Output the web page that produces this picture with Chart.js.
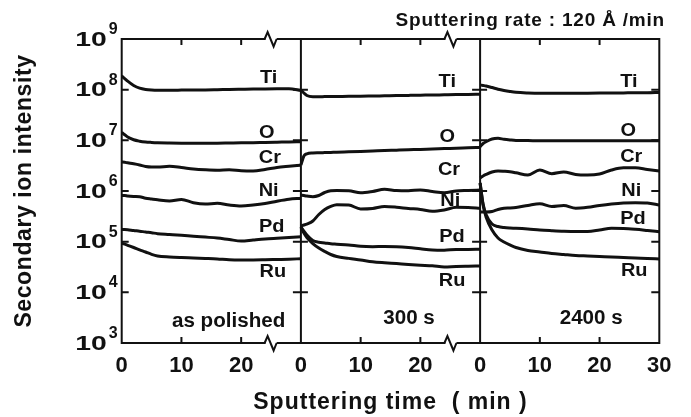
<!DOCTYPE html>
<html>
<head>
<meta charset="utf-8">
<script src="https://cdn.jsdelivr.net/npm/chart.js@4.4.0/dist/chart.umd.min.js"></script>
<style>
  html, body { margin: 0; padding: 0; background: #fff; }
  #wrap { width: 691px; height: 417px; position: relative; }
</style>
</head>
<body>
<div id="wrap"><canvas id="sims"></canvas></div>
<script>
// sputtering time inside each panel (min)
var times = [0, 0.5, 1, 2, 3, 4, 5, 6, 8, 10, 12, 14, 16, 18, 20, 22, 24, 26, 28, 30];
var elements = ['Ti', 'O', 'Cr', 'Ni', 'Pd', 'Ru'];
var panelNames = ['as polished', '300 s', '2400 s'];
var xTickLabels = ['0', '10', '20', '0', '10', '20', '0', '10', '20', '30'];

// as polished
var ti1 = [1.86e8, 1.66e8, 1.47e8, 1.21e8, 1.07e8, 1.01e8, 9.85e7, 9.76e7, 9.76e7, 9.8e7, 9.85e7, 9.89e7, 9.99e7, 1.01e8, 1.02e8, 1.03e8, 1.035e8, 1.04e8, 1.045e8, 9.63e7];
var o1  = [1.44e7, 1.29e7, 1.16e7, 1.025e7, 9.62e6, 9.27e6, 9.1e6, 8.98e6, 8.86e6, 8.78e6, 8.74e6, 8.74e6, 8.78e6, 8.86e6, 8.94e6, 8.98e6, 9.1e6, 9.19e6, 9.27e6, 9.4e6];
var cr1 = [3.74e6, 3.69e6, 3.6e6, 3.44e6, 3.26e6, 3.05e6, 2.98e6, 2.98e6, 3.07e6, 2.91e6, 2.72e6, 2.62e6, 2.57e6, 2.62e6, 2.51e6, 2.48e6, 2.66e6, 2.91e6, 3.07e6, 3.22e6];
var ni1 = [8.15e5, 8.15e5, 7.97e5, 7.79e5, 7.69e5, 7.21e5, 6.95e5, 6.71e5, 6.35e5, 6.8e5, 5.88e5, 5.54e5, 5.72e5, 5.29e5, 5.06e5, 5.29e5, 5.67e5, 6.29e5, 6.86e5, 7.18e5];
var pd1 = [1.75e5, 1.74e5, 1.72e5, 1.66e5, 1.61e5, 1.55e5, 1.5e5, 1.44e5, 1.39e5, 1.34e5, 1.28e5, 1.23e5, 1.18e5, 1.1e5, 1.03e5, 1.08e5, 1.13e5, 1.17e5, 1.21e5, 1.25e5];
var ru1 = [9.29e4, 8.92e4, 8.48e4, 7.67e4, 6.91e4, 6.26e4, 5.63e4, 5.22e4, 4.98e4, 4.85e4, 4.76e4, 4.66e4, 4.55e4, 4.39e4, 4.35e4, 4.35e4, 4.39e4, 4.45e4, 4.51e4, 4.61e4];

// after 300 s
var ti2 = [9.85e7, 8.6e7, 7.67e7, 7.26e7, 7.26e7, 7.3e7, 7.31e7, 7.33e7, 7.4e7, 7.43e7, 7.5e7, 7.57e7, 7.64e7, 7.71e7, 7.78e7, 7.85e7, 7.92e7, 7.99e7, 8.07e7, 8.1e7];
var o2  = [3.26e6, 4.91e6, 5.42e6, 5.62e6, 5.68e6, 5.73e6, 5.78e6, 5.83e6, 5.94e6, 6.05e6, 6.16e6, 6.27e6, 6.39e6, 6.51e6, 6.62e6, 6.75e6, 6.87e6, 7.0e6, 7.12e6, 7.25e6];
var cr2 = [8.34e5, 8.15e5, 7.97e5, 7.72e5, 8.15e5, 9.34e5, 1.014e6, 1.023e6, 1.014e6, 9.22e5, 9.78e5, 1.08e6, 1.023e6, 1.014e6, 1.047e6, 9.78e5, 9.26e5, 1.0e6, 1.023e6, 1.047e6];
var ni2 = [2.04e5, 2.13e5, 2.23e5, 2.56e5, 3.44e5, 4.32e5, 4.95e5, 5.34e5, 5.29e5, 4.42e5, 4.52e5, 4.95e5, 4.79e5, 4.52e5, 4.32e5, 3.98e5, 4.22e5, 4.77e5, 4.73e5, 4.56e5];
var pd2 = [1.95e5, 1.62e5, 1.35e5, 1.055e5, 9.72e4, 9.42e4, 9.08e4, 8.92e4, 8.6e4, 8.1e4, 7.96e4, 8.03e4, 7.96e4, 7.67e4, 7.23e4, 6.85e4, 6.79e4, 7.01e4, 7.01e4, 7.07e4];
var ru2 = [1.95e5, 1.48e5, 1.21e5, 9.2e4, 7.5e4, 6.4e4, 5.58e4, 5.1e4, 4.68e4, 4.35e4, 4.01e4, 3.83e4, 3.69e4, 3.54e4, 3.43e4, 3.34e4, 3.16e4, 3.24e4, 3.28e4, 3.31e4];

// after 2400 s
var ti3 = [1.24e8, 1.21e8, 1.18e8, 1.1e8, 1.02e8, 9.63e7, 9.2e7, 8.87e7, 8.6e7, 8.48e7, 8.48e7, 8.48e7, 8.48e7, 8.52e7, 8.56e7, 8.6e7, 8.64e7, 8.68e7, 8.68e7, 8.79e7];
var o3  = [7.49e6, 8.66e6, 9.4e6, 1.063e7, 1.097e7, 1.048e7, 1.016e7, 9.93e6, 9.88e6, 9.83e6, 9.83e6, 9.83e6, 9.8e6, 9.8e6, 9.8e6, 9.83e6, 9.83e6, 9.83e6, 9.83e6, 9.83e6];
var cr3 = [1.81e6, 1.98e6, 2.12e6, 2.37e6, 2.48e6, 2.45e6, 2.4e6, 2.29e6, 2.07e6, 2.6e6, 2.2e6, 2.37e6, 2.12e6, 2.07e6, 2.17e6, 2.6e6, 2.87e6, 2.87e6, 2.66e6, 2.48e6];
var ni3 = [3.85e5, 3.85e5, 3.85e5, 3.94e5, 4.32e5, 4.56e5, 4.62e5, 4.73e5, 5.18e5, 5.59e5, 4.95e5, 5.18e5, 4.58e5, 4.77e5, 5.18e5, 5.54e5, 5.8e5, 5.88e5, 5.8e5, 5.29e5];
var pd3 = [1.44e6, 5.54e5, 3.44e5, 2.23e5, 1.99e5, 1.9e5, 1.86e5, 1.84e5, 1.78e5, 1.7e5, 1.65e5, 1.61e5, 1.59e5, 1.59e5, 1.7e5, 1.84e5, 1.82e5, 1.75e5, 1.66e5, 1.57e5];
var ru3 = [1.44e6, 5.29e5, 3.07e5, 1.7e5, 1.18e5, 9.85e4, 8.6e4, 7.67e4, 6.7e4, 6.26e4, 5.84e4, 5.58e4, 5.34e4, 5.22e4, 5.1e4, 4.98e4, 4.87e4, 4.76e4, 4.66e4, 4.55e4];

var series = {
  Ti: [ti1, ti2, ti3],
  O:  [o1, o2, o3],
  Cr: [cr1, cr2, cr3],
  Ni: [ni1, ni2, ni3],
  Pd: [pd1, pd2, pd3],
  Ru: [ru1, ru2, ru3]
};

// where the element names sit (time on the joined axis, intensity)
var labelTime  = [[24.6, 24.3, 24.8, 24.6, 25.1, 25.3], [54.5, 54.5, 54.8, 55.0, 55.3, 55.3], [84.9, 84.8, 85.3, 85.3, 85.6, 85.8]];
var labelLevel = [[1.7e8, 1.4e7, 4.48e6, 1.0e6, 1.95e5, 2.52e4], [1.42e8, 1.16e7, 2.6e6, 6.35e5, 1.24e5, 1.67e4], [1.42e8, 1.53e7, 4.69e6, 1.0e6, 2.8e5, 2.64e4]];
var panelTime  = [17.9, 48.1, 78.6];
var panelLevel = [2.6e3, 2.98e3, 2.98e3];
var axisBreaks = [25.1, 55.2];

var FONT = '"Liberation Sans", Arial, sans-serif';
var INK = '#111';

// one dataset per element, the three panels joined on a 0..90 axis with gaps between
function buildData(name) {
  var pts = [];
  for (var p = 0; p < 3; p++) {
    var vals = series[name][p];
    for (var i = 0; i < times.length; i++) {
      pts.push({ x: p * 30 + times[i], y: vals[i] });
    }
    if (p < 2) pts.push({ x: p * 30 + 30, y: null });
  }
  return pts;
}

var datasets = elements.map(function (name) {
  return {
    label: name,
    data: buildData(name),
    borderColor: INK,
    borderWidth: 3,
    pointRadius: 0,
    fill: false,
    spanGaps: false,
    cubicInterpolationMode: 'monotone'
  };
});

function text(ctx, str, x, y, size, align, sx, spacing) {
  ctx.save();
  ctx.translate(x, y);
  ctx.scale(sx || 1, 1);
  ctx.font = 'bold ' + size + 'px ' + FONT;
  ctx.letterSpacing = (spacing || 0) + 'px';
  ctx.textAlign = align || 'center';
  ctx.textBaseline = 'middle';
  ctx.fillText(str, 0, 0);
  ctx.restore();
}

// frame, dividers, inward ticks, axis breaks and all the lettering
var framePlugin = {
  id: 'frame',
  afterDatasetsDraw: function (chart) {
    var ctx = chart.ctx, a = chart.chartArea;
    var xs = chart.scales.x, ys = chart.scales.y;
    ctx.save();
    ctx.strokeStyle = INK;
    ctx.fillStyle = INK;
    ctx.lineWidth = 2;
    ctx.lineCap = 'butt';

    ctx.strokeRect(a.left, a.top, a.right - a.left, a.bottom - a.top);

    var dividers = [30, 60];
    dividers.forEach(function (v) {
      var px = xs.getPixelForValue(v);
      ctx.beginPath();
      ctx.moveTo(px, a.top);
      ctx.lineTo(px, a.bottom);
      ctx.stroke();
    });

    // decade ticks
    var decades = ys.ticks.filter(function (t) {
      var e = Math.log10(t.value);
      return Math.abs(e - Math.round(e)) < 1e-9;
    });
    decades.forEach(function (t) {
      var py = ys.getPixelForValue(t.value);
      var e = Math.round(Math.log10(t.value));
      if (e > 3 && e < 9) {
        ctx.beginPath();
        ctx.moveTo(a.left, py); ctx.lineTo(a.left + 7, py);
        ctx.moveTo(a.right - 8, py); ctx.lineTo(a.right, py);
        dividers.forEach(function (v) {
          var px = xs.getPixelForValue(v);
          ctx.moveTo(px - 8, py); ctx.lineTo(px + 7, py);
        });
        ctx.stroke();
      }
      text(ctx, '10', a.left - 15, py + 1, 21, 'right', 1.35);
      ctx.font = 'bold 16px ' + FONT;
      ctx.textAlign = 'left';
      ctx.textBaseline = 'alphabetic';
      ctx.fillText(String(e), a.left - 13, py - 5);
    });

    // minor time ticks on top and bottom
    xs.ticks.forEach(function (t) {
      if (t.value % 30 === 0) return;
      var px = xs.getPixelForValue(t.value);
      ctx.beginPath();
      ctx.moveTo(px, a.top); ctx.lineTo(px, a.top + 6);
      ctx.moveTo(px, a.bottom); ctx.lineTo(px, a.bottom - 6);
      ctx.stroke();
    });

    // zigzag breaks in the time axis
    axisBreaks.forEach(function (v) {
      var px = xs.getPixelForValue(v);
      [a.top, a.bottom].forEach(function (y) {
        ctx.save();
        ctx.fillStyle = '#fff';
        ctx.fillRect(px - 6, y - 1.5, 11, 3);
        ctx.restore();
        ctx.beginPath();
        ctx.moveTo(px - 7, y);
        ctx.lineTo(px - 4, y - 7);
        ctx.lineTo(px + 2, y + 7.5);
        ctx.lineTo(px + 5, y);
        ctx.stroke();
      });
    });

    // element names and panel names
    for (var p = 0; p < 3; p++) {
      for (var k = 0; k < elements.length; k++) {
        text(ctx, elements[k], xs.getPixelForValue(labelTime[p][k]), ys.getPixelForValue(labelLevel[p][k]), 19, 'center', 1.05);
      }
      text(ctx, panelNames[p], xs.getPixelForValue(panelTime[p]), ys.getPixelForValue(panelLevel[p]), 20, 'center', 1.03);
    }

    // titles
    text(ctx, 'Sputtering rate : 120 \u00c5 /min', 665, 21, 19, 'right', 1, 0.8);
    text(ctx, 'Sputtering time  ( min )', (a.left + a.right) / 2, 403, 23, 'center', 1, 1);
    ctx.save();
    ctx.translate(25, (a.top + a.bottom) / 2);
    ctx.rotate(-Math.PI / 2);
    text(ctx, 'Secondary ion intensity', 0, 0, 23, 'center', 1, 0.6);
    ctx.restore();

    ctx.restore();
  }
};

Chart.defaults.font.family = FONT;

var chart = new Chart(document.getElementById('sims'), {
  type: 'line',
  data: { datasets: datasets },
  plugins: [framePlugin],
  options: {
    responsive: true,
    maintainAspectRatio: false,
    animation: false,
    layout: { padding: { top: 39, right: 31.7, left: 0, bottom: 0 } },
    plugins: { legend: { display: false }, tooltip: { enabled: false } },
    scales: {
      x: {
        type: 'linear',
        min: 0,
        max: 90,
        grid: { display: false, drawTicks: false },
        border: { display: false },
        ticks: {
          stepSize: 10,
          autoSkip: false,
          maxRotation: 0,
          padding: 10,
          color: INK,
          font: { size: 22, weight: 'bold' },
          callback: function (v, i) { return xTickLabels[i]; }
        },
        afterFit: function (scale) { scale.height = 74; }
      },
      y: {
        type: 'logarithmic',
        min: 1e3,
        max: 1e9,
        grid: { display: false, drawTicks: false },
        border: { display: false },
        ticks: { display: false },
        afterFit: function (scale) { scale.width = 121.7; }
      }
    }
  }
});
</script>
</body>
</html>
